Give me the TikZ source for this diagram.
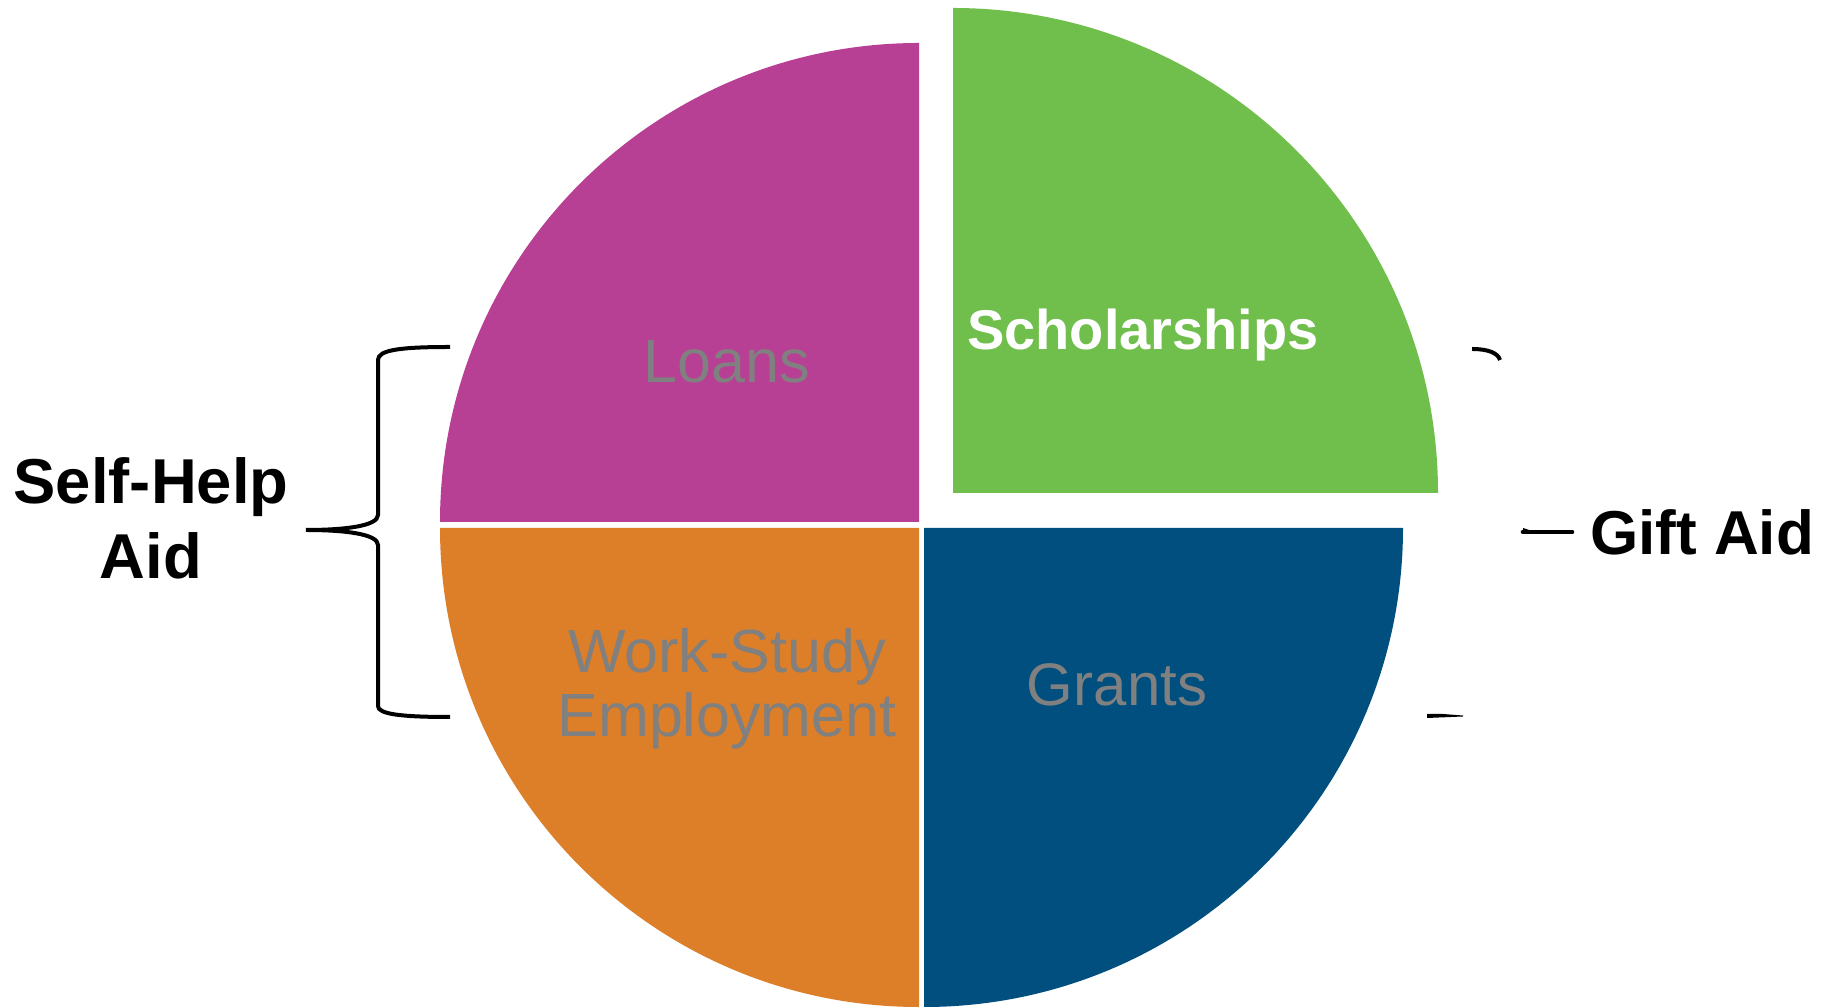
\documentclass[tikz,border=0pt]{standalone}
\usepackage{fontspec}
\setmainfont{Liberation Sans}
\usepackage{tikz}
\usetikzlibrary{positioning}

\definecolor{loanc}{HTML}{B84094}
\definecolor{scholc}{HTML}{70BF4C}
\definecolor{workc}{HTML}{DD7E28}
\definecolor{grantc}{HTML}{004F7E}
\definecolor{labelgray}{HTML}{808080}

\begin{document}
\begin{tikzpicture}[x=0.5pt, y=0.5pt,
	slice/.style={draw=none},
	inlabel/.style={inner sep=0pt, text=labelgray, align=center, font=\fontsize{30.5}{32}\selectfont},
	sidelabel/.style={inner sep=0pt, align=center, font=\fontsize{31}{37.5}\selectfont\bfseries},
	brace/.style={draw=black, line width=2pt}]
	\useasboundingbox (0,0) rectangle (1835,1006);

	% quarters of the pie, scholarships pulled out
	\fill[slice, loanc] (919,484) -- ++(-479,0) arc[start angle=180, end angle=90, radius=479] -- cycle;
	\fill[slice, workc] (919,478) -- ++(0,-479) arc[start angle=270, end angle=180, radius=479] -- cycle;
	\fill[slice, grantc] (924,478) -- ++(479,0) arc[start angle=0, end angle=-90, radius=479] -- cycle;
	\fill[slice, scholc] (953,513) -- ++(0,485) arc[start angle=90, end angle=0, radius=485] -- cycle;

	\node (loans) [inlabel, anchor=base] at (727,623) {Loans};
	\node (schol) [inlabel, anchor=base, text=white, font=\fontsize{28}{32}\selectfont\bfseries] at (1143,656) {Scholarships};
	\node (work) [inlabel] at (727,317) {Work-Study\\Employment};
	\node (grants) [inlabel, anchor=base, font=\fontsize{30}{32}\selectfont] at (1117,300) {Grants};

	\node (selfhelp) [sidelabel, font=\fontsize{31.7}{37.5}\selectfont\bfseries] at (151,488) {Self-Help\\Aid};
	\node (gift) [sidelabel, anchor=base] at (1702,451) {Gift Aid};

	% left brace
	\coordinate (shtip) at (306,476);
	\draw[brace] (450,659) .. controls (400,659) and (378,656) .. (378,646) -- (378,491)
		.. controls (378,480) and (345,476) .. (shtip)
		.. controls (345,476) and (378,472) .. (378,461) -- (378,300)
		.. controls (378,292) and (400,289) .. (450,289);

	% bits of the right brace
	\coordinate (gatip) at (1572,474);
	\draw[brace] (1472,657) .. controls (1488,657) and (1498,653) .. (1500,646);
	\draw[brace, line width=2.3pt, line cap=round] (1523,474) -- (gatip);
	\fill (1523,478) -- (1532,475) -- (1523,472) -- cycle;
	\fill (1427,292) -- (1443,292) -- (1463,290.5) -- (1463,289.5) -- (1427,288) -- cycle;
\end{tikzpicture}
\end{document}
